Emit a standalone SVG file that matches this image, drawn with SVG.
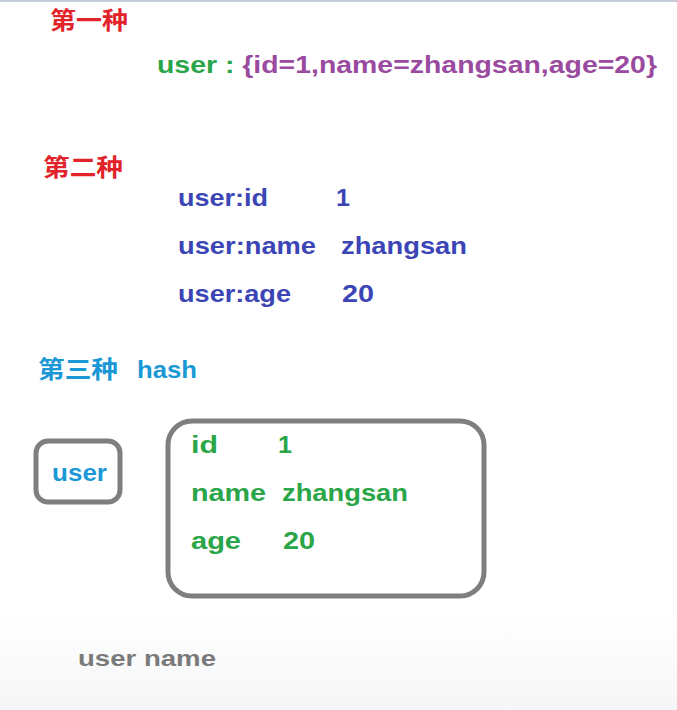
<svg xmlns="http://www.w3.org/2000/svg" width="677" height="710" viewBox="0 0 677 710">
<defs>
<linearGradient id="bg" x1="0" y1="0" x2="0" y2="1">
<stop offset="0" stop-color="#ffffff"/>
<stop offset="0.86" stop-color="#ffffff"/>
<stop offset="1" stop-color="#f5f6f7"/>
</linearGradient>
</defs>
<style>
text{font-family:"Liberation Sans","Noto Sans CJK SC",sans-serif;font-weight:bold;}
.h{font-size:24px;fill:#e2242a;}
.blue{font-size:24px;fill:#3b45b6;}
.lb{fill:#1a98d6;font-size:24px;}
.gr{fill:#2aa548;font-size:24px;}
.box{fill:none;stroke:#7f7f7f;stroke-width:5;}
</style>
<rect width="677" height="710" fill="url(#bg)"/>
<line x1="0" y1="1" x2="677" y2="1" stroke="#c5ccd6" stroke-width="2"/>
<g id="first">
<text class="h" x="50" y="29" textLength="78" lengthAdjust="spacingAndGlyphs">第一种</text>
<text x="157" y="73" font-size="23" textLength="500" lengthAdjust="spacingAndGlyphs"><tspan fill="#2aa548">user : </tspan><tspan fill="#9a4a9f">{id=1,name=zhangsan,age=20}</tspan></text>
</g>
<g id="second">
<text class="h" x="43" y="176" textLength="80" lengthAdjust="spacingAndGlyphs">第二种</text>
<text class="blue" x="178" y="206" textLength="90" lengthAdjust="spacingAndGlyphs">user:id</text>
<text class="blue" x="336" y="206" textLength="14" lengthAdjust="spacingAndGlyphs">1</text>
<text class="blue" x="178" y="254" textLength="138" lengthAdjust="spacingAndGlyphs">user:name</text>
<text class="blue" x="341" y="254" textLength="126" lengthAdjust="spacingAndGlyphs">zhangsan</text>
<text class="blue" x="178" y="302" textLength="113" lengthAdjust="spacingAndGlyphs">user:age</text>
<text class="blue" x="342" y="302" textLength="32" lengthAdjust="spacingAndGlyphs">20</text>
</g>
<g id="third">
<text class="lb" x="38" y="378" textLength="80" lengthAdjust="spacingAndGlyphs">第三种</text>
<text class="lb" x="137" y="378" textLength="60" lengthAdjust="spacingAndGlyphs">hash</text>
</g>
<g id="user-key">
<rect class="box" x="36" y="441" width="84" height="61" rx="12"/>
<text class="lb" x="52" y="481" textLength="55" lengthAdjust="spacingAndGlyphs">user</text>
</g>
<g id="hash-fields">
<rect class="box" x="168" y="421" width="316" height="175" rx="24"/>
<text class="gr" x="191" y="453" textLength="27" lengthAdjust="spacingAndGlyphs">id</text>
<text class="gr" x="278" y="453" textLength="14" lengthAdjust="spacingAndGlyphs">1</text>
<text class="gr" x="191" y="501" textLength="75" lengthAdjust="spacingAndGlyphs">name</text>
<text class="gr" x="282" y="501" textLength="126" lengthAdjust="spacingAndGlyphs">zhangsan</text>
<text class="gr" x="191" y="549" textLength="50" lengthAdjust="spacingAndGlyphs">age</text>
<text class="gr" x="283" y="549" textLength="32" lengthAdjust="spacingAndGlyphs">20</text>
</g>
<g id="footer">
<text x="78" y="666" font-size="22" fill="#7a7a7a" textLength="138" lengthAdjust="spacingAndGlyphs">user name</text>
</g>
</svg>
